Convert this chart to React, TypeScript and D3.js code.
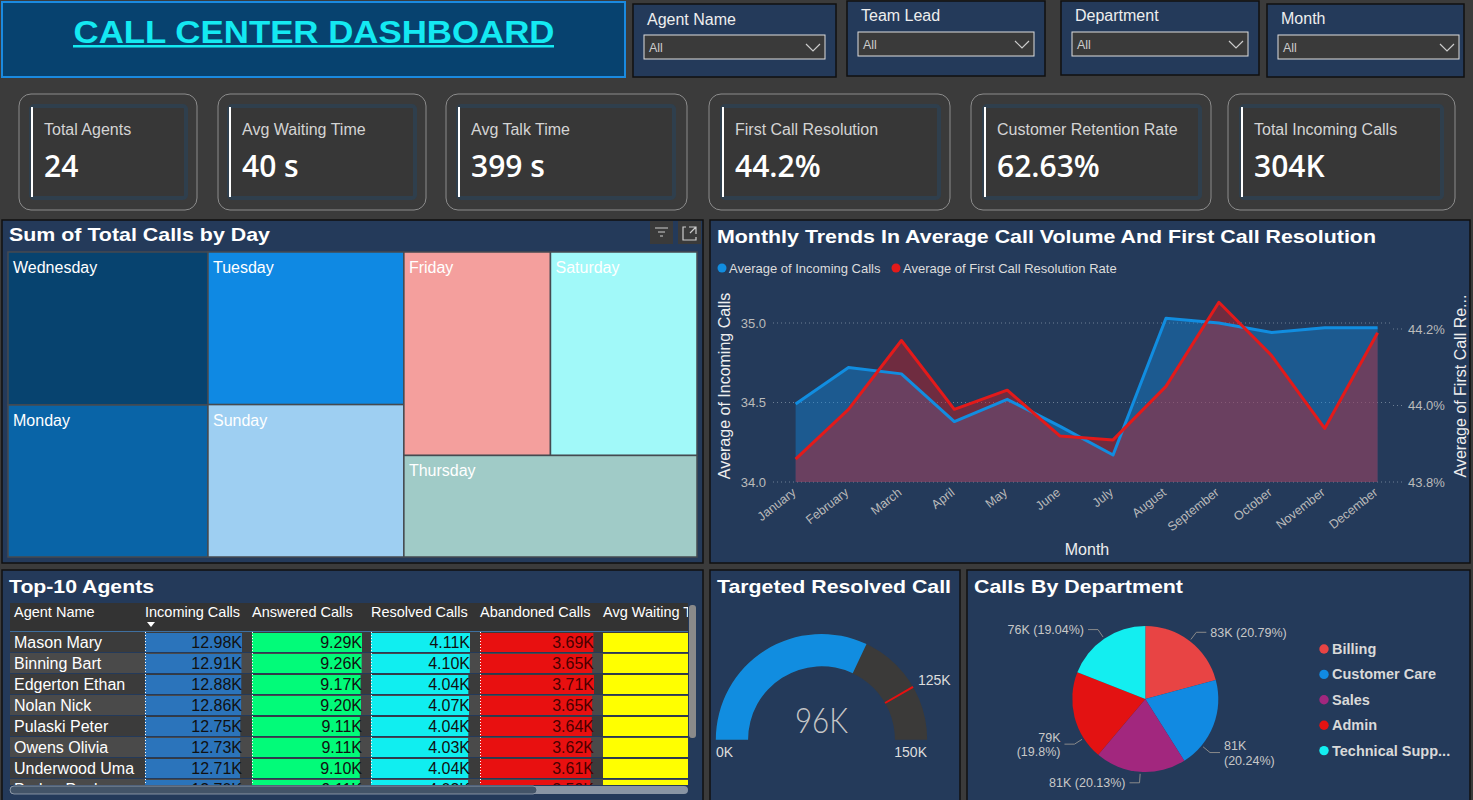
import * as d3 from "d3";

// ---- slicers ----
const slicerLabels = ["Agent Name", "Team Lead", "Department", "Month"];

// ---- KPI cards ----
const kpiLabels = ["Total Agents", "Avg Waiting Time", "Avg Talk Time", "First Call Resolution", "Customer Retention Rate", "Total Incoming Calls"];
const kpiValues = ["24", "40 s", "399 s", "44.2%", "62.63%", "304K"];

// ---- treemap: total calls by weekday ----
const days = ["Wednesday", "Monday", "Tuesday", "Sunday", "Friday", "Saturday", "Thursday"];
const dayCalls = [44320, 44030, 43300, 43250, 43200, 43180, 43120];
const dayColors = ["#07436f", "#0964a7", "#0f89e3", "#9ecff2", "#f49f9d", "#a1f9f9", "#a0cbc7"];

// ---- monthly trends ----
const months = ["January", "February", "March", "April", "May", "June", "July", "August", "September", "October", "November", "December"];
const avgIncoming = [34.49, 34.72, 34.68, 34.38, 34.52, 34.35, 34.17, 35.03, 35.0, 34.94, 34.97, 34.97];
const avgFcr = [43.86, 43.99, 44.17, 43.99, 44.04, 43.92, 43.91, 44.05, 44.27, 44.13, 43.94, 44.19];

// ---- top agents table ----
const agents = ["Mason Mary", "Binning Bart", "Edgerton Ethan", "Nolan Nick", "Pulaski Peter", "Owens Olivia", "Underwood Uma", "Parker Paul"];
const incoming = [12980, 12910, 12880, 12860, 12750, 12730, 12710, 12700];
const answered = [9290, 9260, 9170, 9200, 9110, 9110, 9100, 9110];
const resolved = [4110, 4100, 4040, 4070, 4040, 4030, 4040, 4030];
const abandoned = [3690, 3650, 3710, 3650, 3640, 3620, 3610, 3590];
const avgWaiting = [40.4, 40.1, 39.8, 40.2, 40.0, 39.7, 40.3, 39.9];

// ---- gauge ----
const resolvedCalls = 96000;
const resolvedTarget = 125000;
const resolvedMax = 150000;

// ---- calls by department ----
const departments = ["Billing", "Customer Care", "Sales", "Admin", "Technical Support"];
const deptCalls = [83264, 81061, 80621, 79299, 76255];
const deptColors = ["#e84444", "#118ae2", "#a2277e", "#e31212", "#13eef0"];

const FONT = "'Liberation Sans', Arial, sans-serif";
const PAGE = "#3b3b3b";
const PANEL = "#243a5a";

const Title = ({ x, y, len, children }: any) => (
  <text x={x} y={y} fill="#fff" fontSize={19} fontWeight={700} textLength={len} lengthAdjust="spacingAndGlyphs">
    {children}
  </text>
);

const Panel = ({ x, y, w, h }: any) => <rect x={x} y={y} width={w} height={h} fill={PANEL} stroke="#111" strokeWidth={1.5} />;

function Header() {
  const boxes = [
    { x: 633, y: 4, w: 203, h: 73, ly: 25, dx: 644, dy: 35, dw: 181 },
    { x: 847, y: 1, w: 198, h: 75, ly: 21, dx: 858, dy: 32, dw: 176 },
    { x: 1061, y: 1, w: 198, h: 74, ly: 21, dx: 1072, dy: 32, dw: 176 },
    { x: 1267, y: 4, w: 197, h: 73, ly: 24, dx: 1278, dy: 35, dw: 181 },
  ];
  return (
    <g>
      <rect x={2} y={2} width={623} height={75} fill="#07426f" stroke="#1a8ae0" strokeWidth={2} />
      <text x={314} y={43} textAnchor="middle" fill="#14e9f2" fontSize={32} fontWeight={700} textLength={481} lengthAdjust="spacingAndGlyphs">
        CALL CENTER DASHBOARD
      </text>
      <rect x={73} y={45} width={481} height={2.5} fill="#14e9f2" />
      {boxes.map((b, i) => (
        <g key={i}>
          <rect x={b.x} y={b.y} width={b.w} height={b.h} fill={PANEL} stroke="#111" strokeWidth={1.5} />
          <text x={b.x + 14} y={b.ly} fill="#eee" fontSize={16}>{slicerLabels[i]}</text>
          <rect x={b.dx} y={b.dy} width={b.dw} height={24} fill="#3a3a3a" stroke="#ddd" strokeWidth={1} />
          <text x={b.dx + 5} y={b.dy + 17} fill="#ccc" fontSize={12.5}>All</text>
          <path d={`M${b.dx + b.dw - 19},${b.dy + 9} l7,7 l7,-7`} fill="none" stroke="#ccc" strokeWidth={1.2} />
        </g>
      ))}
    </g>
  );
}

function Kpis() {
  const cards = [
    { x: 19, w: 178, ix: 31, iw: 155 },
    { x: 218, w: 208, ix: 229, iw: 186 },
    { x: 446, w: 241, ix: 458, iw: 216 },
    { x: 709, w: 241, ix: 722, iw: 217 },
    { x: 971, w: 240, ix: 984, iw: 216 },
    { x: 1228, w: 227, ix: 1241, iw: 201 },
  ];
  return (
    <g>
      {cards.map((c, i) => (
        <g key={i}>
          <rect x={c.x} y={94} width={c.w} height={116} rx={12} fill="#3a3a3a" stroke="#8c8c8c" strokeWidth={1} />
          <rect x={c.ix} y={106} width={c.iw} height={92} rx={3} fill="#373737" stroke="#2f3f4d" strokeWidth={4} />
          <line x1={c.ix + 1} x2={c.ix + 1} y1={107} y2={197} stroke="#fff" strokeWidth={2} />
          <text x={c.ix + 13} y={135} fill="#d4d4d4" fontSize={16}>{kpiLabels[i]}</text>
          <text x={c.ix + 13} y={177} fill="#fff" fontSize={30} fontWeight={600} fontFamily="'Open Sans', Roboto, sans-serif">
            {kpiValues[i]}
          </text>
        </g>
      ))}
    </g>
  );
}

function Treemap() {
  const root = d3
    .hierarchy<any>({ children: days.map((d, i) => ({ name: d, value: dayCalls[i], color: dayColors[i] })) })
    .sum((d) => d.value || 0)
    .sort((a, b) => (b.value || 0) - (a.value || 0));
  d3.treemap<any>().tile(d3.treemapSquarify.ratio(1)).size([689, 305])(root);
  const leaves = root.leaves() as d3.HierarchyRectangularNode<any>[];
  return (
    <g>
      <Panel x={2} y={220} w={701} h={343} />
      <Title x={9} y={241} len={261}>Sum of Total Calls by Day</Title>
      <rect x={650} y={221} width={23} height={23} fill="#3a3a3a" />
      <path d="M655,228 h13 M658,232 h7 M660,236 h3" stroke="#ccc" strokeWidth={1.2} />
      <rect x={678} y={221} width={23} height={23} fill="#3a3a3a" />
      <path d="M686,227 h-3 v13 h13 v-3 M689,227 h7 v7 M696,227 l-6,6" fill="none" stroke="#ccc" strokeWidth={1.2} />
      <g transform="translate(8,252)">
        {leaves.map((l) => (
          <g key={l.data.name}>
            <rect x={l.x0} y={l.y0} width={l.x1 - l.x0} height={l.y1 - l.y0} fill={l.data.color} stroke="#454a50" strokeWidth={1.5} />
            <text x={l.x0 + 5} y={l.y0 + 21} fill="#fff" fontSize={16}>{l.data.name}</text>
          </g>
        ))}
      </g>
    </g>
  );
}

function Trends() {
  const x = d3.scalePoint<string>().domain(months).range([795.6, 1377.6]);
  const yL = d3.scaleLinear().domain([34, 35]).range([482, 323]);
  const yR = d3.scaleLinear().domain([43.8, 44.2]).range([482, 329]);
  const px = (_: number, i: number) => x(months[i]) as number;
  const areaL = d3.area<number>().x(px).y0(yL(34)).y1((d) => yL(d));
  const lineL = d3.line<number>().x(px).y((d) => yL(d));
  const areaR = d3.area<number>().x(px).y0(yR(43.8)).y1((d) => yR(d));
  const lineR = d3.line<number>().x(px).y((d) => yR(d));
  return (
    <g>
      <Panel x={710} y={220} w={760} h={343} />
      <Title x={717} y={243} len={659}>Monthly Trends In Average Call Volume And First Call Resolution</Title>
      <circle cx={722} cy={268} r={4.5} fill="#118de0" />
      <text x={729} y={272.5} fill="#ddd" fontSize={13}>Average of Incoming Calls</text>
      <circle cx={896} cy={268} r={4.5} fill="#e31a1a" />
      <text x={903} y={272.5} fill="#ddd" fontSize={13}>Average of First Call Resolution Rate</text>

      {yL.ticks(2).map((t) => (
        <g key={"l" + t}>
          <line x1={773} x2={1391} y1={yL(t)} y2={yL(t)} stroke="#6d7f94" strokeDasharray="1,3" />
          <text x={766} y={yL(t) + 4.5} textAnchor="end" fill="#bbb" fontSize={13}>{t.toFixed(1)}</text>
        </g>
      ))}
      {yR.ticks(2).map((t) => (
        <g key={"r" + t}>
          <line x1={1393} x2={1404} y1={yR(t)} y2={yR(t)} stroke="#6d7f94" strokeDasharray="1,3" />
          <text x={1408} y={yR(t) + 4.5} fill="#bbb" fontSize={13}>{t.toFixed(1) + "%"}</text>
        </g>
      ))}

      <path d={areaL(avgIncoming) || ""} fill="#118de0" fillOpacity={0.4} />
      <path d={areaR(avgFcr) || ""} fill="#e01a1a" fillOpacity={0.4} />
      <path d={lineL(avgIncoming) || ""} fill="none" stroke="#118de0" strokeWidth={3} strokeLinejoin="round" />
      <path d={lineR(avgFcr) || ""} fill="none" stroke="#e31a1a" strokeWidth={3} strokeLinejoin="round" />

      {months.map((m) => (
        <text key={m} transform={`translate(${(x(m) as number) + 1},${494}) rotate(-38)`} textAnchor="end" fill="#bbb" fontSize={12.5}>
          {m}
        </text>
      ))}
      <text x={1087} y={555} textAnchor="middle" fill="#eee" fontSize={16}>Month</text>
      <text transform="translate(730,386) rotate(-90)" textAnchor="middle" fill="#eee" fontSize={16}>Average of Incoming Calls</text>
      <text transform="translate(1466,386) rotate(-90)" textAnchor="middle" fill="#eee" fontSize={16}>Average of First Call Re...</text>
    </g>
  );
}

function AgentsTable() {
  const cols = [
    { name: "Incoming Calls", vals: incoming, x: 145, end: 242, fill: "#2b74bb", ink: "#111" },
    { name: "Answered Calls", vals: answered, x: 252, end: 362, fill: "#02fb79", ink: "#111" },
    { name: "Resolved Calls", vals: resolved, x: 371, end: 470, fill: "#10eef0", ink: "#111" },
    { name: "Abandoned Calls", vals: abandoned, x: 480, end: 594, fill: "#e81010", ink: "#4a0000" },
    { name: "Avg Waiting Time", vals: avgWaiting, x: 603, end: 705, fill: "#ffff00", ink: "#111" },
  ];
  const rowH = 21;
  const top = 632;
  return (
    <g>
      <Panel x={2} y={570} w={701} h={235} />
      <Title x={9} y={593} len={145}>Top-10 Agents</Title>
      <defs>
        <clipPath id="tbl">
          <rect x={10} y={603} width={678} height={182} />
        </clipPath>
      </defs>
      <g clipPath="url(#tbl)">
        <rect x={10} y={603} width={690} height={29} fill="#333" />
        <text x={14} y={617} fill="#fff" fontSize={14.5}>Agent Name</text>
        {cols.map((c) => (
          <text key={c.name} x={c.x} y={617} fill="#fff" fontSize={14.5}>{c.name}</text>
        ))}
        <path d="M147,622 h8 l-4,5 z" fill="#fff" />
        <line x1={10} x2={700} y1={631.5} y2={631.5} stroke="#3f6f9f" strokeWidth={1} />
        {agents.map((a, r) => {
          const y = top + r * rowH;
          return (
            <g key={a}>
              <rect x={10} y={y} width={690} height={rowH - 1} fill={r % 2 === 0 ? "#3b3b3b" : "#4a4a4a"} />
              <text x={14} y={y + 16} fill="#fff" fontSize={16}>{a}</text>
              {cols.map((c) => {
                const s = d3.scaleLinear().domain([0, d3.max(c.vals) as number]).range([0, c.end - c.x]);
                return (
                  <g key={c.name}>
                    <rect x={c.x} y={y + 1} width={s(c.vals[r])} height={rowH - 2} fill={c.fill} />
                    {c.name !== "Avg Waiting Time" && (
                      <text x={c.end} y={y + 16} textAnchor="end" fill={c.ink} fontSize={16}>
                        {(c.vals[r] / 1000).toFixed(2) + "K"}
                      </text>
                    )}
                  </g>
                );
              })}
            </g>
          );
        })}
        {cols.slice(0, 4).map((c) => (
          <line key={c.name} x1={c.x + 0.5} x2={c.x + 0.5} y1={632} y2={785} stroke="#fff" strokeDasharray="1,2" />
        ))}
      </g>
      <rect x={689} y={605} width={7} height={133} rx={3} fill="#8a8a8a" />
      <rect x={10} y={786} width={678} height={8} rx={4} fill="#8995a4" />
      <rect x={10} y={786} width={527} height={8} rx={4} fill="#435468" stroke="#9aa5b3" strokeWidth={0.8} />
    </g>
  );
}

function Gauge() {
  const cx = 821.5, cy = 739.7, r0 = 73.4, r1 = 105.7;
  const a = d3.scaleLinear().domain([0, resolvedMax]).range([-Math.PI / 2, Math.PI / 2]);
  const arc = d3.arc<any>().innerRadius(r0).outerRadius(r1);
  const t = a(resolvedTarget);
  const fmt = (v: number) => Math.round(v / 1000) + "K";
  return (
    <g>
      <Panel x={710} y={570} w={250} h={235} />
      <Title x={717} y={593} len={234}>Targeted Resolved Call</Title>
      <g transform={`translate(${cx},${cy})`}>
        <path d={arc({ startAngle: a(0), endAngle: a(resolvedMax) }) || ""} fill="#3b3a39" />
        <path d={arc({ startAngle: a(0), endAngle: a(resolvedCalls) }) || ""} fill="#118de0" />
        <line x1={r0 * Math.sin(t)} y1={-r0 * Math.cos(t)} x2={r1 * Math.sin(t)} y2={-r1 * Math.cos(t)} stroke="#e81010" strokeWidth={2} />
        <text x={0} y={-7} textAnchor="middle" fill="#c6c6c6" fontSize={35} fontWeight={300} fontFamily="Lato, 'Open Sans', sans-serif" textLength={53} lengthAdjust="spacingAndGlyphs">
          {fmt(resolvedCalls)}
        </text>
      </g>
      <text x={918} y={685} fill="#ddd" fontSize={14}>{fmt(resolvedTarget)}</text>
      <text x={716} y={757} fill="#ddd" fontSize={14}>{fmt(0)}</text>
      <text x={927} y={757} textAnchor="end" fill="#ddd" fontSize={14}>{fmt(resolvedMax)}</text>
    </g>
  );
}

function Departments() {
  const cx = 1145.3, cy = 699, R = 73;
  const total = d3.sum(deptCalls);
  const pct = d3.format(".2~%");
  const arcs = d3.pie<number>().sort(null).value((d) => d)(deptCalls);
  const arc = d3.arc<any>().innerRadius(0).outerRadius(R);
  return (
    <g>
      <Panel x={967} y={570} w={503} h={235} />
      <Title x={974} y={593} len={209}>Calls By Department</Title>
      <g transform={`translate(${cx},${cy})`}>
        {arcs.map((s, i) => (
          <path key={i} d={arc(s) || ""} fill={deptColors[i]} />
        ))}
        {arcs.map((s, i) => {
          let mid = (s.startAngle + s.endAngle) / 2;
          const wrap = Math.abs(Math.sin(mid)) > 0.85;
          if (wrap) mid += (mid < Math.PI ? 1 : -1) * 0.32;
          const side = Math.sin(mid) >= 0 ? 1 : -1;
          const p0 = [(R + 2) * Math.sin(mid), -(R + 2) * Math.cos(mid)];
          const p1 = [(R + 11) * Math.sin(mid), -(R + 11) * Math.cos(mid)];
          const p2 = [p1[0] + side * 10, p1[1]];
          const tx = p2[0] + side * 4;
          const v = Math.round(deptCalls[i] / 1000) + "K";
          const p = "(" + pct(deptCalls[i] / total) + ")";
          return (
            <g key={"l" + i}>
              <polyline points={[p0, p1, p2].map((q) => q.join(",")).join(" ")} fill="none" stroke="#8a8a8a" strokeWidth={1} />
              {wrap ? (
                <text textAnchor={side > 0 ? "start" : "end"} fill="#c8c8c8" fontSize={12.5}>
                  <tspan x={tx} y={p2[1] - 2.5}>{v}</tspan>
                  <tspan x={tx} y={p2[1] + 12}>{p}</tspan>
                </text>
              ) : (
                <text x={tx} y={p2[1] + 4.5} textAnchor={side > 0 ? "start" : "end"} fill="#c8c8c8" fontSize={12.5}>
                  {v + " " + p}
                </text>
              )}
            </g>
          );
        })}
      </g>
      {departments.map((d, i) => (
        <g key={d} transform={`translate(1324,${649 + i * 25.4})`}>
          <circle r={4.7} fill={deptColors[i]} />
          <text x={8} y={5} fill="#d9d9d9" fontSize={14.5} fontWeight={700}>
            {d.length > 15 ? d.slice(0, 14) + "..." : d}
          </text>
        </g>
      ))}
    </g>
  );
}

export default function App() {
  return (
    <div style={{ position: "absolute", left: 0, top: 0, width: 1473, height: 800, background: PAGE, overflow: "hidden" }}>
      <svg width={1473} height={800} style={{ display: "block", fontFamily: FONT }}>
        <rect width={1473} height={800} fill={PAGE} />
        <Header />
        <Kpis />
        <Treemap />
        <Trends />
        <AgentsTable />
        <Gauge />
        <Departments />
      </svg>
    </div>
  );
}
